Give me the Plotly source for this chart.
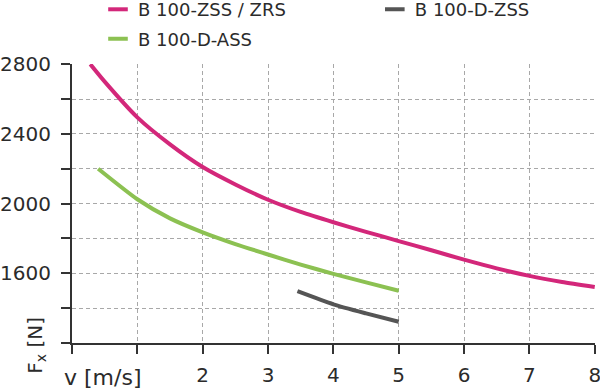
import plotly.graph_objects as go

# ---- data ----
v_zss = [0.28, 0.5, 1.0, 1.5, 2.0, 2.5, 3.0, 3.5, 4.0, 4.5, 5.0, 5.5, 6.0, 6.5, 7.0, 7.5, 8.0]
f_zss = [2800, 2700, 2495, 2340, 2210, 2110, 2022, 1952, 1893, 1838, 1785, 1732, 1678, 1628, 1585, 1550, 1521]

v_ass = [0.4, 1.0, 1.5, 2.0, 2.5, 3.0, 3.5, 4.0, 4.5, 5.0]
f_ass = [2200, 2025, 1915, 1835, 1768, 1708, 1650, 1597, 1548, 1500]

v_dzss = [3.45, 4.0, 4.5, 5.0]
f_dzss = [1497, 1422, 1370, 1322]

series_names = ["B 100-ZSS / ZRS", "B 100-D-ZSS", "B 100-D-ASS"]
series_colors = ["#d3277a", "#555555", "#8cc152"]

x_tickvals = [0, 1, 2, 3, 4, 5, 6, 7, 8]
x_ticktext = ["", "", "2", "3", "4", "5", "6", "7", "8"]
y_tickvals = [1200, 1400, 1600, 1800, 2000, 2200, 2400, 2600, 2800]
y_ticktext = ["", "", "1600", "", "2000", "", "2400", "", "2800"]

FONT = "DejaVu Sans"
TXT = "#2b2b2b"
AX = "#333333"
GRID = "#a8a8a8"

fig = go.Figure()

curves = [(v_zss, f_zss), (v_dzss, f_dzss), (v_ass, f_ass)]
for (xs, ys), name, col in zip(curves, series_names, series_colors):
    fig.add_trace(go.Scatter(x=xs, y=ys, mode="lines", name=name,
                             line=dict(color=col, width=4, shape="spline", smoothing=0.6),
                             showlegend=False, hoverinfo="skip"))

legend_ids = ["legend", "legend2", "legend3"]
for name, col, lid in zip(series_names, series_colors, legend_ids):
    fig.add_trace(go.Scatter(x=[None], y=[None], mode="markers", name=name,
                             marker=dict(symbol="line-ew", size=14, color=col,
                                         line=dict(color=col, width=4)),
                             showlegend=True, legend=lid))

leg_common = dict(orientation="h", xanchor="left", yanchor="middle",
                  bgcolor="rgba(0,0,0,0)", borderwidth=0,
                  font=dict(family=FONT, size=18, color=TXT))

fig.update_layout(
    width=600, height=390,
    margin=dict(l=72, r=5, t=64, b=47, autoexpand=False),
    paper_bgcolor="white", plot_bgcolor="white",
    font=dict(family=FONT, size=20, color=TXT),
    legend=dict(x=0.0497, y=1.195, **leg_common),
    legend2=dict(x=0.579, y=1.195, **leg_common),
    legend3=dict(x=0.0497, y=1.089, **leg_common),
    xaxis=dict(range=[0, 8.004], tickvals=x_tickvals, ticktext=x_ticktext,
               ticks="outside", ticklen=9, tickwidth=2, tickcolor=AX,
               showline=True, linewidth=2, linecolor=AX,
               showgrid=True, gridcolor=GRID, gridwidth=1, griddash="4px,3px",
               zeroline=False, ticklabelstandoff=4, ticklabeloverflow="allow",
               tickfont=dict(family=FONT, size=20, color=TXT)),
    yaxis=dict(range=[1200, 2801], tickvals=y_tickvals, ticktext=y_ticktext,
               ticks="outside", ticklen=9, tickwidth=2, tickcolor=AX,
               showline=True, linewidth=2, linecolor=AX,
               showgrid=True, gridcolor=GRID, gridwidth=1, griddash="4px,3px",
               zeroline=False, ticklabelstandoff=6, ticklabeloverflow="allow",
               tickfont=dict(family=FONT, size=20, color=TXT)),
    annotations=[
        dict(text="v [m/s]", xref="paper", yref="paper", x=-0.019, y=-0.122,
             xanchor="left", yanchor="middle", showarrow=False,
             font=dict(family=FONT, size=22, color=TXT)),
        dict(text="F<sub>x</sub> [N]", xref="paper", yref="paper", x=-0.068, y=-0.008,
             xanchor="center", yanchor="middle", textangle=-90, showarrow=False,
             font=dict(family=FONT, size=20, color=TXT)),
    ],
)

fig.write_html("out.html", config={"displayModeBar": False},
               post_script="document.body.style.margin='0';document.body.style.overflow='hidden';")
